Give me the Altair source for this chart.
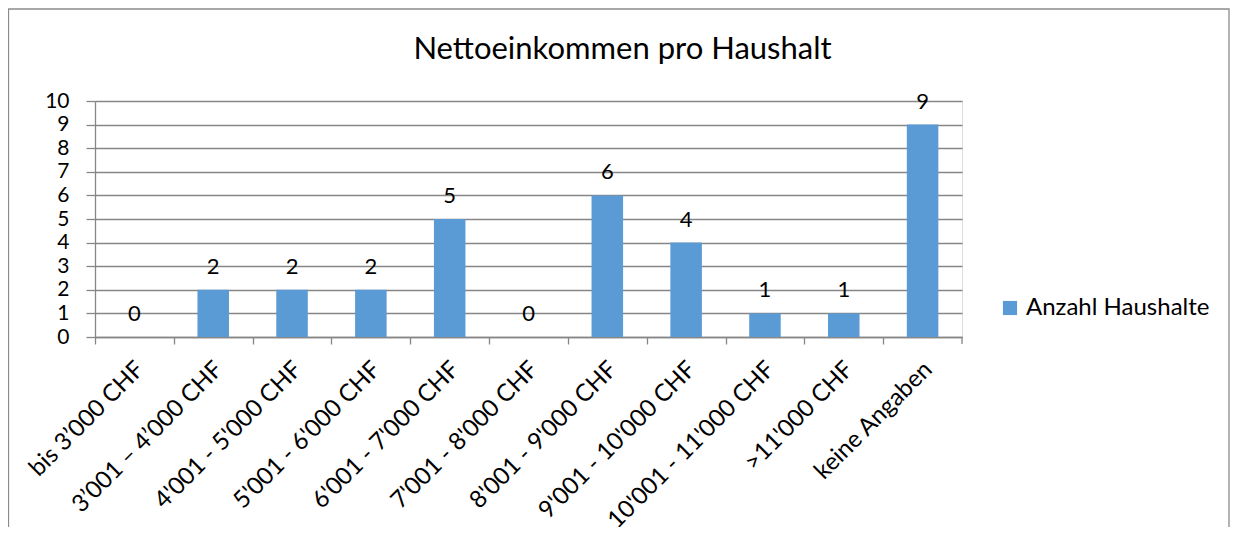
import altair as alt
import pandas as pd

categories = ["bis 3\u2019000 CHF", "3\u2019001 \u2013 4\u2019000 CHF", "4'001 - 5'000 CHF",
              "5'001 - 6'000 CHF", "6'001 - 7'000 CHF", "7'001 - 8'000 CHF",
              "8'001 - 9'000 CHF", "9'001 - 10'000 CHF", "10'001 - 11'000 CHF",
              ">11'000 CHF", "keine Angaben"]
values = [0, 2, 2, 2, 5, 0, 6, 4, 1, 1, 9]
series = "Anzahl Haushalte"
y_ticks = list(range(0, 11))

df = pd.DataFrame({"cat": categories, "val": values, "series": [series] * len(values)})

FONT = "Lato"
BLUE = "#5B9BD5"
GRID = "#868686"
W, H = 867, 236
step = W / len(categories)

base = alt.Chart(df)

x_enc = alt.X("cat:N", sort=categories, title=None,
              scale=alt.Scale(paddingInner=0.6, paddingOuter=0.3),
              axis=alt.Axis(labelAngle=-45, labelAlign="right", labelBaseline="top",
                            labelFontSize=24, labelFont=FONT, labelColor="#000",
                            labelPadding=13, labelLimit=400, labelOverlap=False,
                            tickOffset=-step / 2, labelOffset=step / 2 - 3,
                            tickSize=7, tickColor=GRID, domainColor=GRID,
                            tickWidth=1.3, domainWidth=1.3, grid=False))
y_enc = alt.Y("val:Q", title=None,
              scale=alt.Scale(domain=[0, 10], nice=False),
              axis=alt.Axis(values=y_ticks, tickCount=30, format="d",
                            labelFontSize=21, labelFont=FONT, labelColor="#000",
                            labelPadding=17, tickSize=9, labelOverlap=False,
                            tickColor=GRID, domainColor=GRID, gridColor=GRID,
                            gridWidth=1.3, tickWidth=1.3, domainWidth=1.3, grid=True))

bars = base.mark_bar().encode(
    x=x_enc, y=y_enc,
    color=alt.Color("series:N", title=None,
                    scale=alt.Scale(domain=[series], range=[BLUE]),
                    legend=alt.Legend(orient="none", legendX=903, legendY=195,
                                      symbolType="square", symbolSize=200,
                                      symbolStrokeWidth=0, labelFontSize=24,
                                      labelFont=FONT, labelColor="#000",
                                      labelLimit=400)),
)

labels = base.mark_text(fontSize=22, font=FONT, color="#000", baseline="alphabetic",
                        dy=-16).encode(x=x_enc, y=y_enc, text="val:Q")

# closing tick at the right end of the category axis
end_tick = alt.Chart(pd.DataFrame({"a": [0]})).mark_rule(
    color=GRID, strokeWidth=1.3).encode(
    x=alt.value(W), y=alt.value(H), y2=alt.value(H + 7))

frame = alt.Chart(pd.DataFrame({"a": [0]})).mark_rect(
    fill=None, stroke="#8c8c8c", strokeWidth=1.3, clip=False).encode(
    x=alt.value(-86.5), x2=alt.value(1134), y=alt.value(-92), y2=alt.value(460))

chart = alt.layer(frame, bars, labels, end_tick).properties(
    width=W, height=H,
    title=alt.TitleParams("Nettoeinkommen pro Haushalt", fontSize=31, font=FONT,
                          fontWeight="normal", color="#000", anchor="middle",
                          dx=94, offset=-58),
    autosize=alt.AutoSizeParams(type="none"),
    padding={"left": 87, "top": 93, "right": 268, "bottom": 190},
).configure_view(stroke=None).configure(background="white")

chart.save("out.html", embed_options={"renderer": "svg", "actions": False})
